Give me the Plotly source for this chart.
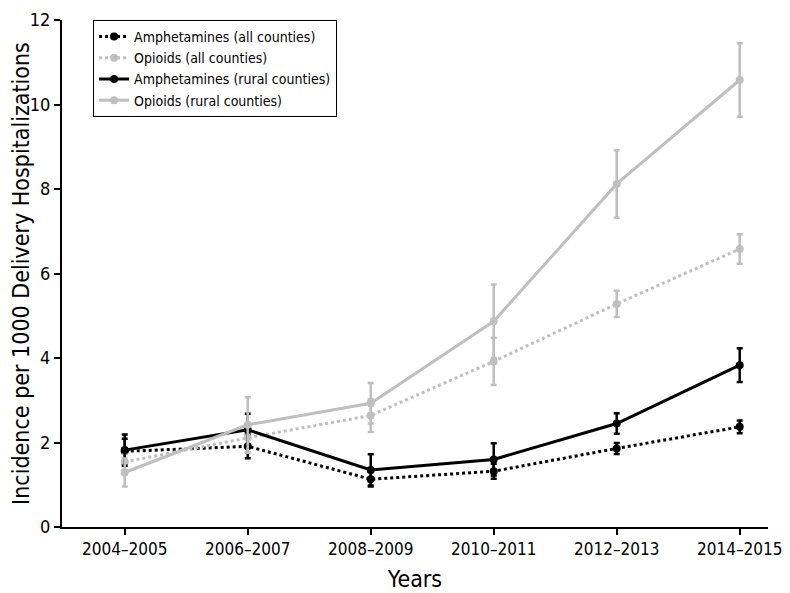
import plotly.graph_objects as go

years = ["2004–2005", "2006–2007", "2008–2009", "2010–2011", "2012–2013", "2014–2015"]

amph_all = [1.79, 1.91, 1.13, 1.32, 1.86, 2.37]
amph_all_err = [0.30, 0.28, 0.17, 0.18, 0.13, 0.15]
opi_all = [1.54, 2.11, 2.64, 3.92, 5.28, 6.58]
opi_all_err = [0.20, 0.35, 0.39, 0.56, 0.31, 0.35]
amph_rural = [1.82, 2.30, 1.35, 1.60, 2.45, 3.83]
amph_rural_err = [0.37, 0.38, 0.37, 0.38, 0.24, 0.40]
opi_rural = [1.29, 2.42, 2.93, 4.87, 8.12, 10.58]
opi_rural_err = [0.33, 0.65, 0.48, 0.87, 0.80, 0.87]

BLACK = "#000000"
GREY = "#bfbfbf"
FONT = "DejaVu Sans Condensed, Roboto, sans-serif"

series = [
    ("Amphetamines (all counties)", amph_all, amph_all_err, BLACK, "dot"),
    ("Opioids (all counties)", opi_all, opi_all_err, GREY, "dot"),
    ("Amphetamines (rural counties)", amph_rural, amph_rural_err, BLACK, "solid"),
    ("Opioids (rural counties)", opi_rural, opi_rural_err, GREY, "solid"),
]

fig = go.Figure()
x_idx = list(range(len(years)))
for name, vals, err, col, dash in series:
    fig.add_trace(go.Scatter(
        x=x_idx, y=vals, name=name, mode="lines+markers",
        line=dict(color=col, width=3, dash=dash),
        marker=dict(color=col, size=8),
        error_y=dict(type="data", array=err, visible=True, color=col, thickness=2.5, width=3),
    ))

fig.update_layout(
    width=782, height=585,
    margin=dict(l=54, r=22, t=12, b=66),
    plot_bgcolor="white", paper_bgcolor="white",
    font=dict(family=FONT, color="black", size=16),
    showlegend=True,
    legend=dict(x=0.044, y=1.0, xanchor="left", yanchor="top",
                bordercolor="black", borderwidth=1, bgcolor="white",
                font=dict(size=14), tracegroupgap=0),
    xaxis=dict(
        range=[-0.51, 5.23], tickmode="array", tickvals=x_idx, ticktext=years,
        showline=True, linecolor="black", linewidth=2, ticks="outside",
        ticklen=6, tickwidth=2, tickcolor="black", showgrid=False, zeroline=False,
        title=dict(text="Years", font=dict(size=23), standoff=12),
        tickfont=dict(size=17), automargin=False, ticklabeloverflow="allow",
    ),
    yaxis=dict(
        range=[0, 12], tickvals=[0, 2, 4, 6, 8, 10, 12],
        showline=True, linecolor="black", linewidth=2, ticks="outside",
        ticklen=6, tickwidth=2, tickcolor="black", showgrid=False, zeroline=False,
        title=dict(text="Incidence per 1000 Delivery Hospitalizations", font=dict(size=23), standoff=7),
        tickfont=dict(size=18), automargin=False, ticklabeloverflow="allow",
    ),
)

fig.write_html("out.html")
